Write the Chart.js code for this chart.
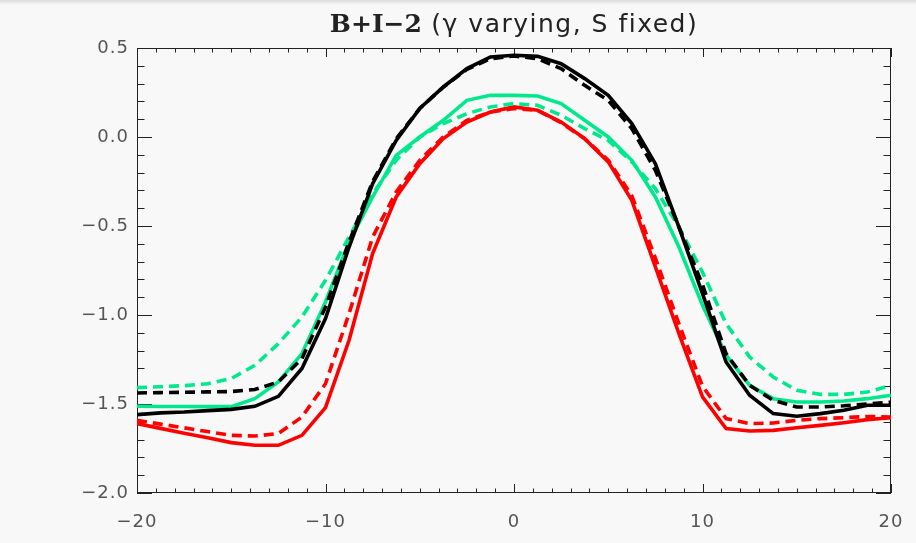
<!DOCTYPE html>
<html>
<head>
<meta charset="utf-8">
<script src="https://cdn.jsdelivr.net/npm/chart.js@4/dist/chart.umd.min.js"></script>
<style>
  html, body { margin: 0; padding: 0; background: #f8f8f8; }
  #wrap { position: relative; width: 916px; height: 543px; }
  #topbar { position: absolute; left: 0; top: 0; width: 916px; height: 5px;
    background: linear-gradient(#dcdcdc, #f8f8f8); }
</style>
</head>
<body>
<div id="wrap">
  <div id="topbar"></div>
  <canvas id="chart" width="916" height="543"></canvas>
</div>
<script>
// positions along the cut
const xValues = [-20, -18.75, -17.5, -16.25, -15, -13.75, -12.5, -11.25, -10, -8.75, -7.5, -6.25, -5, -3.75, -2.5, -1.25,
  0, 1.25, 2.5, 3.75, 5, 6.25, 7.5, 8.75, 10, 11.25, 12.5, 13.75, 15, 16.25, 17.5, 18.75, 20];

const blackSolid = [-1.56, -1.55, -1.545, -1.537, -1.53, -1.513, -1.457, -1.30, -1.02, -0.618, -0.262, -0.019, 0.16, 0.281, 0.384, 0.45,
  0.459, 0.453, 0.412, 0.328, 0.234, 0.075, -0.15, -0.506, -0.88, -1.264, -1.451, -1.554, -1.569, -1.554, -1.535, -1.507, -1.507];
const blackDashed = [-1.438, -1.436, -1.434, -1.432, -1.43, -1.419, -1.376, -1.245, -0.955, -0.59, -0.25, -0.01, 0.16, 0.28, 0.38, 0.44,
  0.455, 0.44, 0.384, 0.29, 0.206, 0.047, -0.187, -0.506, -0.83, -1.217, -1.395, -1.479, -1.517, -1.517, -1.51, -1.50, -1.49];
const greenSolid = [-1.513, -1.514, -1.514, -1.515, -1.515, -1.47, -1.376, -1.217, -0.927, -0.59, -0.337, -0.103, 0.0, 0.094, 0.206, 0.234,
  0.234, 0.23, 0.188, 0.094, 0.0, -0.131, -0.337, -0.618, -0.945, -1.226, -1.395, -1.47, -1.489, -1.489, -1.483, -1.47, -1.451];
const greenDashed = [-1.408, -1.403, -1.397, -1.386, -1.357, -1.283, -1.161, -1.011, -0.805, -0.562, -0.32, -0.131, 0.0, 0.075, 0.131, 0.169,
  0.188, 0.178, 0.122, 0.047, -0.019, -0.14, -0.29, -0.506, -0.76, -1.048, -1.236, -1.348, -1.423, -1.446, -1.446, -1.433, -1.395];
const redSolid = [-1.61, -1.637, -1.664, -1.69, -1.717, -1.732, -1.732, -1.676, -1.52, -1.142, -0.655, -0.337, -0.15, -0.009, 0.084, 0.14,
  0.169, 0.15, 0.084, -0.009, -0.14, -0.356, -0.73, -1.105, -1.46, -1.638, -1.652, -1.648, -1.633, -1.62, -1.605, -1.588, -1.577];
const redDashed = [-1.592, -1.613, -1.634, -1.655, -1.676, -1.68, -1.666, -1.573, -1.386, -0.992, -0.562, -0.309, -0.131, 0.0, 0.094, 0.14,
  0.16, 0.15, 0.08, -0.01, -0.13, -0.33, -0.68, -1.05, -1.40, -1.582, -1.61, -1.607, -1.592, -1.582, -1.577, -1.57, -1.573];

const xTicks = [-20, -10, 0, 10, 20];
const yTicks = [-2.0, -1.5, -1.0, -0.5, 0.0, 0.5];
const titleBold = "B+I\u22122";
const titleRest = "(\u03b3 varying, S fixed)";

const GREEN = "rgb(0,232,140)";
const RED = "rgb(255,0,0)";
const BLACK = "#000";

function pts(ys){ return ys.map((y, i) => ({ x: xValues[i], y })); }
function ds(ys, color, dashed){
  return { data: pts(ys), borderColor: color, borderWidth: 3.6, borderDash: dashed ? [10, 6] : [],
    pointRadius: 0, tension: 0, fill: false };
}
function minus(s){ return String(s).replace("-", "\u2212"); }

// IDL style box with inward ticks on all four sides
const boxPlugin = {
  id: "box",
  beforeDraw(chart){
    // wider, Hershey-like spacing for all text
    chart.ctx.letterSpacing = "1px";
  },
  beforeDatasetsDraw(chart){
    const { ctx, chartArea: a, scales: { x, y } } = chart;
    ctx.save();
    ctx.strokeStyle = "#222";
    ctx.lineWidth = 1;
    ctx.strokeRect(a.left + 0.5, a.top + 0.5, a.right - a.left - 1, a.bottom - a.top - 1);
    ctx.beginPath();
    for (let v = -20; v <= 20; v++) {
      const px = Math.round(x.getPixelForValue(v)) + 0.5;
      const len = v % 10 === 0 ? 9 : 4.5;
      ctx.moveTo(px, a.bottom); ctx.lineTo(px, a.bottom - len);
      ctx.moveTo(px, a.top); ctx.lineTo(px, a.top + len);
    }
    for (let k = -20; k <= 5; k++) {
      const py = Math.round(y.getPixelForValue(k / 10)) + 0.5;
      const len = k % 5 === 0 ? 15 : 7.5;
      ctx.moveTo(a.left, py); ctx.lineTo(a.left + len, py);
      ctx.moveTo(a.right, py); ctx.lineTo(a.right - len, py);
    }
    ctx.stroke();
    ctx.restore();
  },
  afterDraw(chart){
    const { ctx, chartArea: a } = chart;
    ctx.save();
    ctx.fillStyle = "#222";
    ctx.textBaseline = "middle";
    const f1 = "bold 25px 'DejaVu Serif'";
    const f2 = "25px 'DejaVu Sans'";
    ctx.letterSpacing = "0px";
    ctx.font = f1; const w1 = ctx.measureText(titleBold).width;
    ctx.letterSpacing = "1.5px";
    ctx.font = f2; const w2 = ctx.measureText(" " + titleRest).width;
    let x0 = (a.left + a.right) / 2 - (w1 + w2) / 2;
    ctx.letterSpacing = "0px";
    ctx.font = f1; ctx.fillText(titleBold, x0, 25);
    ctx.letterSpacing = "1.5px";
    ctx.font = f2; ctx.fillText(" " + titleRest, x0 + w1, 25);
    ctx.restore();
  }
};

new Chart(document.getElementById("chart"), {
  type: "line",
  data: {
    datasets: [
      ds(blackSolid, BLACK, false),
      ds(blackDashed, BLACK, true),
      ds(greenSolid, GREEN, false),
      ds(greenDashed, GREEN, true),
      ds(redSolid, RED, false),
      ds(redDashed, RED, true)
    ]
  },
  options: {
    responsive: false,
    animation: false,
    layout: { padding: { left: 0, right: 25, top: 48, bottom: 0 } },
    plugins: { legend: { display: false }, tooltip: { enabled: false } },
    scales: {
      x: {
        type: "linear", min: -20, max: 20,
        grid: { display: false, drawTicks: false }, border: { display: false },
        afterBuildTicks: s => { s.ticks = xTicks.map(v => ({ value: v })); },
        afterFit: s => { s.height = 50; s.paddingLeft = 0; s.paddingRight = 0; },
        ticks: { padding: 19, color: "#555", font: { family: "DejaVu Sans", size: 18 }, maxRotation: 0,
          callback: v => minus(v) }
      },
      y: {
        type: "linear", min: -2, max: 0.5,
        grid: { display: false, drawTicks: false }, border: { display: false },
        afterBuildTicks: s => { s.ticks = yTicks.map(v => ({ value: v })); },
        afterFit: s => { s.width = 137; s.paddingTop = 0; s.paddingBottom = 0; },
        ticks: { padding: 8, color: "#555", font: { family: "DejaVu Sans", size: 18 },
          callback: v => minus(Number(v).toFixed(1)) }
      }
    }
  },
  plugins: [boxPlugin]
});
</script>
</body>
</html>
